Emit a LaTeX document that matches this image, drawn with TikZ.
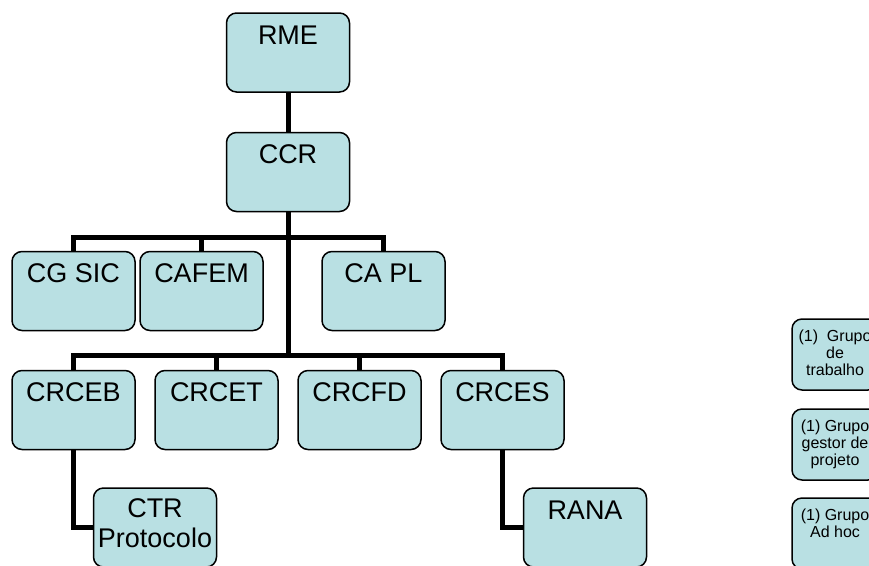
\documentclass[tikz,border=0pt]{standalone}
\usepackage{xcolor}
\usepackage{fontspec}
\setmainfont{Liberation Sans}
\usepackage{tikz}
\usetikzlibrary{positioning}
\definecolor{unitfill}{RGB}{185,224,227}
\newcommand{\unitfont}{\fontsize{27}{30}\selectfont}
\newcommand{\groupfont}{\fontsize{16}{17}\selectfont}

\begin{document}
\begin{tikzpicture}[x=1pt,y=-1pt,node distance=143pt,on grid,
        unit/.style={draw,line width=1.5pt,fill=unitfill,rounded corners=10pt,
            minimum width=123pt,minimum height=79pt,inner sep=0pt,
            text height=31pt,text depth=48pt,align=center,font=\unitfont},
        group/.style={unit,minimum width=86pt,minimum height=71pt,
            text height=56.5pt,text depth=14.5pt,font=\groupfont},
        wire/.style={line width=5pt}]
        \useasboundingbox (0,0) rectangle (869,565);

        \node[unit]  (RME)   at (288,52.5)             {RME};
        \node[unit]  (CCR)   [below=119.5pt of RME]    {CCR};

        \node[unit]  (CGSIC) at (73.5,291)             {CG SIC};
        \node[unit]  (CAFEM) [right=128pt of CGSIC]    {CAFEM};
        \node[unit]  (CAPL)  [right=310pt of CGSIC]    {CA PL};

        \node[unit]  (CRCEB) at (73.5,410)             {CRCEB};
        \node[unit]  (CRCET) [right=of CRCEB]          {CRCET};
        \node[unit]  (CRCFD) [right=of CRCET]          {CRCFD};
        \node[unit]  (CRCES) [right=of CRCFD]          {CRCES};

        \node[unit,text height=59pt,text depth=20pt]
                     (CTR)   at (155,527.5)            {CTR\\Protocolo};
        \node[unit]  (RANA)  at (585,527.5)            {RANA};

        \node[group] (GT)    at (835,354.5)            {(1)\ \ Grupo\\de\\trabalho};
        \node[group] (GG)    [below=90pt of GT]        {(1) Grupo\\gestor de\\projeto};
        \node[group,text height=39.5pt,text depth=31.5pt]
                     (GA)    [below=89pt of GG]        {(1) Grupo\\Ad hoc};

        \coordinate (bus1) at (288,237);
        \coordinate (bus2) at (288,355);

        \draw[wire] (RME) -- (CCR);
        \draw[wire] (CCR) -- (bus2);
        \draw[wire] (bus1) -| (CGSIC)
                    (bus1) -| (CAFEM)
                    (bus1) -| (CAPL);
        \draw[wire] (bus2) -| (CRCEB)
                    (bus2) -| (CRCET)
                    (bus2) -| (CRCFD)
                    (bus2) -| (CRCES);
        \draw[wire] (CRCEB) |- (CTR)
                    (CRCES) |- (RANA);
    \end{tikzpicture}
\end{document}
